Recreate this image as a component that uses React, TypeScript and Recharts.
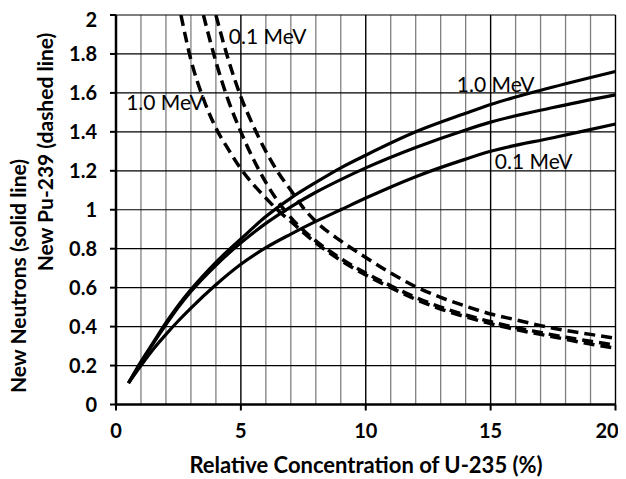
import React from 'react';
import { LineChart, Line, XAxis, YAxis, CartesianGrid, ReferenceLine, ReferenceDot } from 'recharts';

// Solid lines: new neutrons
const solidX = [0.5, 1, 1.5, 2, 2.5, 3, 4, 5, 6, 7, 8, 9, 10, 12, 14, 15, 17.5, 20];
const neutrons10 = [0.11, 0.22, 0.32, 0.42, 0.51, 0.59, 0.73, 0.85, 0.965, 1.06, 1.14, 1.215, 1.28, 1.40, 1.495, 1.54, 1.63, 1.71];
const neutronsMid = [0.11, 0.215, 0.315, 0.41, 0.50, 0.58, 0.715, 0.83, 0.93, 1.015, 1.09, 1.155, 1.215, 1.32, 1.41, 1.45, 1.525, 1.59];
const neutrons01 = [0.11, 0.20, 0.285, 0.36, 0.43, 0.495, 0.615, 0.72, 0.805, 0.875, 0.94, 1.0, 1.06, 1.17, 1.26, 1.30, 1.37, 1.44];

// Dashed lines: new Pu-239
const pu10X = [2.6, 3, 3.5, 4, 4.5, 5, 5.5, 6, 6.5, 7, 8, 9, 10, 11, 12, 13, 14, 15, 16, 17, 18, 19, 20];
const pu10 = [2.0, 1.77, 1.57, 1.42, 1.31, 1.21, 1.13, 1.06, 0.995, 0.94, 0.83, 0.74, 0.665, 0.60, 0.54, 0.49, 0.45, 0.415, 0.385, 0.36, 0.335, 0.31, 0.29];
const puMidX = [3.5, 4, 4.5, 5, 5.5, 6, 6.5, 7, 8, 9, 10, 11, 12, 13, 14, 15, 16, 17, 18, 19, 20];
const puMid = [2.0, 1.76, 1.56, 1.40, 1.26, 1.14, 1.04, 0.96, 0.84, 0.75, 0.675, 0.61, 0.55, 0.50, 0.46, 0.425, 0.395, 0.37, 0.345, 0.325, 0.305];
const pu01X = [4, 4.5, 5, 5.5, 6, 6.5, 7, 7.5, 8, 9, 10, 11, 12, 13, 14, 15, 16, 17, 18, 19, 20];
const pu01 = [2.0, 1.77, 1.58, 1.43, 1.30, 1.19, 1.10, 1.01, 0.94, 0.84, 0.755, 0.675, 0.605, 0.55, 0.505, 0.465, 0.435, 0.405, 0.38, 0.36, 0.34];

const xTicks = [0, 5, 10, 15, 20];
const yTicks = [0, 0.2, 0.4, 0.6, 0.8, 1, 1.2, 1.4, 1.6, 1.8, 2];
const yGrid = [0.1, 0.2, 0.3, 0.4, 0.5, 0.6, 0.7, 0.8, 0.9, 1, 1.1, 1.2, 1.3, 1.4, 1.5, 1.6, 1.7, 1.8, 1.9, 2];
const xMinorGrid = [1, 2, 3, 4, 6, 7, 8, 9, 11, 12, 13, 14, 16, 17, 18, 19];
const xMajorGrid = [5, 10, 15, 20];

const curveLabels = [
  { text: '0.1 MeV', x: 6.07, y: 1.888 },
  { text: '1.0 MeV', x: 1.96, y: 1.549 },
  { text: '1.0 MeV', x: 15.2, y: 1.642 },
  { text: '0.1 MeV', x: 16.72, y: 1.246 },
];

const toPts = (xs: number[], ys: number[]) => xs.map((x, i) => ({ x, y: ys[i] }));

const FONT = 'Lato, "Open Sans", sans-serif';

const solidSeries = [
  { name: '1.0 MeV neutrons', data: toPts(solidX, neutrons10) },
  { name: 'mid neutrons', data: toPts(solidX, neutronsMid) },
  { name: '0.1 MeV neutrons', data: toPts(solidX, neutrons01) },
];
const dashedSeries = [
  { name: '1.0 MeV Pu-239', data: toPts(pu10X, pu10) },
  { name: 'mid Pu-239', data: toPts(puMidX, puMid) },
  { name: '0.1 MeV Pu-239', data: toPts(pu01X, pu01) },
];

const W = 610;
const H = 471;

const titleStyle: React.CSSProperties = {
  position: 'absolute',
  fontFamily: FONT,
  fontWeight: 700,
  fontSize: 21,
  color: '#000',
  lineHeight: '24px',
  height: 24,
  textAlign: 'center',
  whiteSpace: 'nowrap',
};

const XTick = (props: any) => {
  const { x, y, payload } = props;
  const shift = payload.value === 20 ? -3 : 0;
  return (
    <text
      x={x + shift}
      y={y}
      dy="0.71em"
      textAnchor="middle"
      fill="#000"
      fontSize={20}
      fontWeight={700}
      fontFamily={FONT}
    >
      {payload.value}
    </text>
  );
};

export default function App() {
  return (
    <div style={{ position: 'relative', width: W, height: H }}>
      <LineChart width={W} height={H} margin={{ top: 7, right: 2.5, left: 0, bottom: 44.5 }}>
        <CartesianGrid verticalValues={xMinorGrid} horizontal={false} stroke="#808080" strokeWidth={1.3} />
        <CartesianGrid horizontalValues={yGrid} vertical={false} stroke="#000" strokeWidth={1.2} />
        {xMajorGrid.map((v) => (
          <ReferenceLine key={'mx' + v} x={v} stroke="#000" strokeWidth={1.4} />
        ))}
        <XAxis
          type="number"
          dataKey="x"
          domain={[0, 20]}
          ticks={xTicks}
          allowDataOverflow
          height={30}
          axisLine={{ stroke: '#000', strokeWidth: 2.5 }}
          tickLine={{ stroke: '#000', strokeWidth: 2 }}
          tickSize={6}
          tickMargin={13}
          tick={<XTick />}
        />
        <YAxis
          type="number"
          domain={[0, 2]}
          ticks={yTicks}
          allowDataOverflow
          width={108}
          axisLine={{ stroke: '#000', strokeWidth: 2.5 }}
          tickLine={{ stroke: '#000', strokeWidth: 2 }}
          tickSize={6}
          tickMargin={13}
          tick={{ fill: '#000', fontSize: 20, fontWeight: 700, fontFamily: FONT }}
        />
        {solidSeries.map((s) => (
          <Line
            key={s.name}
            name={s.name}
            data={s.data}
            dataKey="y"
            type="monotone"
            stroke="#000"
            strokeWidth={3.2}
            dot={false}
            activeDot={false}
            isAnimationActive={false}
          />
        ))}
        {dashedSeries.map((s) => (
          <Line
            key={s.name}
            name={s.name}
            data={s.data}
            dataKey="y"
            type="monotone"
            stroke="#000"
            strokeWidth={3.5}
            strokeDasharray="11 6"
            dot={false}
            activeDot={false}
            isAnimationActive={false}
          />
        ))}
        {curveLabels.map((l, i) => (
          <ReferenceDot
            key={'lbl' + i}
            x={l.x}
            y={l.y}
            r={0}
            fill="none"
            stroke="none"
            ifOverflow="visible"
            label={{ value: l.text, position: 'center', fill: '#000', fontSize: 21, fontFamily: FONT }}
          />
        ))}
      </LineChart>
      <div style={{ ...titleStyle, fontSize: 22, left: 108, width: 500, top: 445 }}>
        Relative Concentration of U-235 (%)
      </div>
      <div style={{ ...titleStyle, left: 10 - 150, width: 300, top: 268 - 12, transform: 'rotate(-90deg)' }}>
        New Neutrons (solid line)
      </div>
      <div style={{ ...titleStyle, left: 37 - 150, width: 300, top: 144 - 12, transform: 'rotate(-90deg)' }}>
        New Pu-239 (dashed line)
      </div>
    </div>
  );
}
